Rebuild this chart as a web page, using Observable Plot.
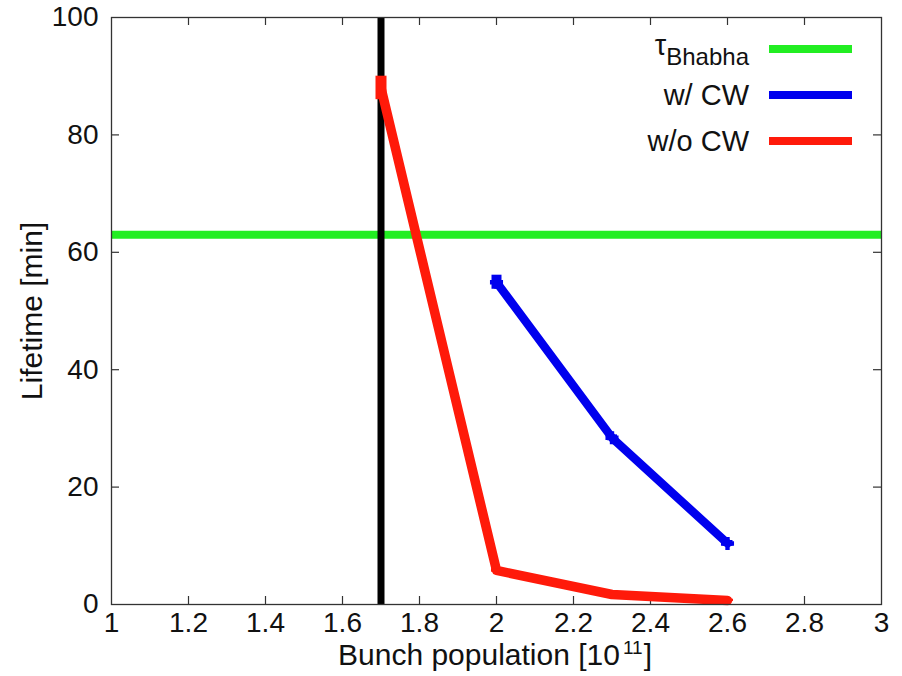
<!DOCTYPE html>
<html>
<head>
<meta charset="utf-8">
<script src="https://cdn.jsdelivr.net/npm/d3@7"></script>
<script src="https://cdn.jsdelivr.net/npm/@observablehq/plot@0.6"></script>
<style>
  html, body { margin: 0; padding: 0; background: #fff; }
  #chart { position: relative; width: 902px; height: 676px; }
</style>
</head>
<body>
<div id="chart"></div>
<script>
// Data
const bunchWo = [1.7, 2.0, 2.3, 2.6];
const lifeWo = [88, 5.8, 1.7, 0.7];
const errWo = [2, 0.3, 0.2, 0.2];
const bunchW = [2.0, 2.3, 2.6];
const lifeW = [54.9, 28.4, 10.4];
const errW = [1.2, 0.5, 0.5];
const bhabha = 63;
const threshold = 1.7;
const xTicks = [1, 1.2, 1.4, 1.6, 1.8, 2, 2.2, 2.4, 2.6, 2.8, 3];
const yTicks = [0, 20, 40, 60, 80, 100];
const seriesNames = ["τBhabha", "w/ CW", "w/o CW"];
const seriesColors = ["#22ee22", "#0000ee", "#ff1a0a"];

const wo = bunchWo.map((x, i) => ({x, y: lifeWo[i], lo: lifeWo[i] - errWo[i], hi: lifeWo[i] + errWo[i]}));
const w = bunchW.map((x, i) => ({x, y: lifeW[i], lo: lifeW[i] - errW[i], hi: lifeW[i] + errW[i]}));

const W = 902, H = 676;
const mL = 111, mR = 21, mT = 17, mB = 72;
const xDomain = [1, 3], yDomain = [0, 100];
const tickLen = 8;
const pxPerX = (W - mL - mR) / (xDomain[1] - xDomain[0]);
const pxPerY = (H - mT - mB) / (yDomain[1] - yDomain[0]);
const dy = tickLen / pxPerY, dx = tickLen / pxPerX;

const font = "'Liberation Sans', Arial, Helvetica, sans-serif";

const plot = Plot.plot({
  width: W, height: H,
  marginLeft: mL, marginRight: mR, marginTop: mT, marginBottom: mB,
  style: {fontFamily: font, fontSize: "28px", color: "#111", background: "#fff"},
  x: {domain: xDomain, label: null},
  y: {domain: yDomain, label: null},
  marks: [
    Plot.axisX(xTicks, {tickSize: 0, tickPadding: 8, fontSize: 28, label: null, tickFormat: d => String(d)}),
    Plot.axisY(yTicks, {tickSize: 0, tickPadding: 13, fontSize: 28, label: null}),
    // inward ticks (bottom, top, left, right)
    Plot.ruleX(xTicks.slice(1, -1), {y1: yDomain[0], y2: yDomain[0] + dy, stroke: "#333", strokeWidth: 1.2}),
    Plot.ruleX(xTicks.slice(1, -1), {y1: yDomain[1], y2: yDomain[1] - dy, stroke: "#333", strokeWidth: 1.2}),
    Plot.ruleY(yTicks.slice(1, -1), {x1: xDomain[0], x2: xDomain[0] + dx, stroke: "#333", strokeWidth: 1.2}),
    Plot.ruleY(yTicks.slice(1, -1), {x1: xDomain[1], x2: xDomain[1] - dx, stroke: "#333", strokeWidth: 1.2}),
    Plot.ruleY([bhabha], {stroke: seriesColors[0], strokeWidth: 8}),
    Plot.ruleX([threshold], {stroke: "#000", strokeWidth: 7}),
    Plot.line(w, {x: "x", y: "y", stroke: seriesColors[1], strokeWidth: 8.5}),
    Plot.ruleX(w, {x: "x", y1: "lo", y2: "hi", stroke: seriesColors[1], strokeWidth: 10}),
    Plot.dot(w, {x: "x", y: "y", symbol: "cross", r: 5.5, fill: seriesColors[1]}),
    Plot.line(wo, {x: "x", y: "y", stroke: seriesColors[2], strokeWidth: 9.5}),
    Plot.ruleX(wo, {x: "x", y1: "lo", y2: "hi", stroke: seriesColors[2], strokeWidth: 11}),
    Plot.frame({stroke: "#333", strokeWidth: 1.3})
  ]
});

const container = document.getElementById("chart");
container.appendChild(plot);

const svg = d3.select(plot);

// Legend (upper right, gnuplot style)
const legendRows = [49, 95, 141];
const g = svg.append("g").attr("font-family", font).attr("font-size", 29).attr("fill", "#111");
seriesNames.forEach((name, i) => {
  const yy = legendRows[i];
  if (i === 0) {
    const t = g.append("text").attr("x", 749).attr("y", yy + 8).attr("text-anchor", "end");
    t.append("tspan").text("τ").attr("dy", -2);
    t.append("tspan").text("Bhabha").attr("font-size", 24).attr("dy", 10);
  } else {
    g.append("text").attr("x", 749).attr("y", yy + 10).attr("text-anchor", "end").text(name);
  }
  g.append("line").attr("x1", 769).attr("x2", 852).attr("y1", yy).attr("y2", yy)
    .attr("stroke", seriesColors[i]).attr("stroke-width", 8);
});

// Axis labels
svg.append("text").attr("x", 495).attr("y", 665).attr("text-anchor", "middle")
  .attr("font-family", font).attr("font-size", 30).attr("fill", "#111")
  .call(t => {
    t.append("tspan").text("Bunch population [10");
    t.append("tspan").text("11").attr("font-size", 19).attr("dx", 3).attr("dy", -11);
    t.append("tspan").text("]").attr("dx", 1).attr("dy", 11);
  });
svg.append("text").attr("transform", "translate(42,311) rotate(-90)").attr("text-anchor", "middle")
  .attr("font-family", font).attr("font-size", 30).attr("fill", "#111")
  .text("Lifetime [min]");
</script>
</body>
</html>
